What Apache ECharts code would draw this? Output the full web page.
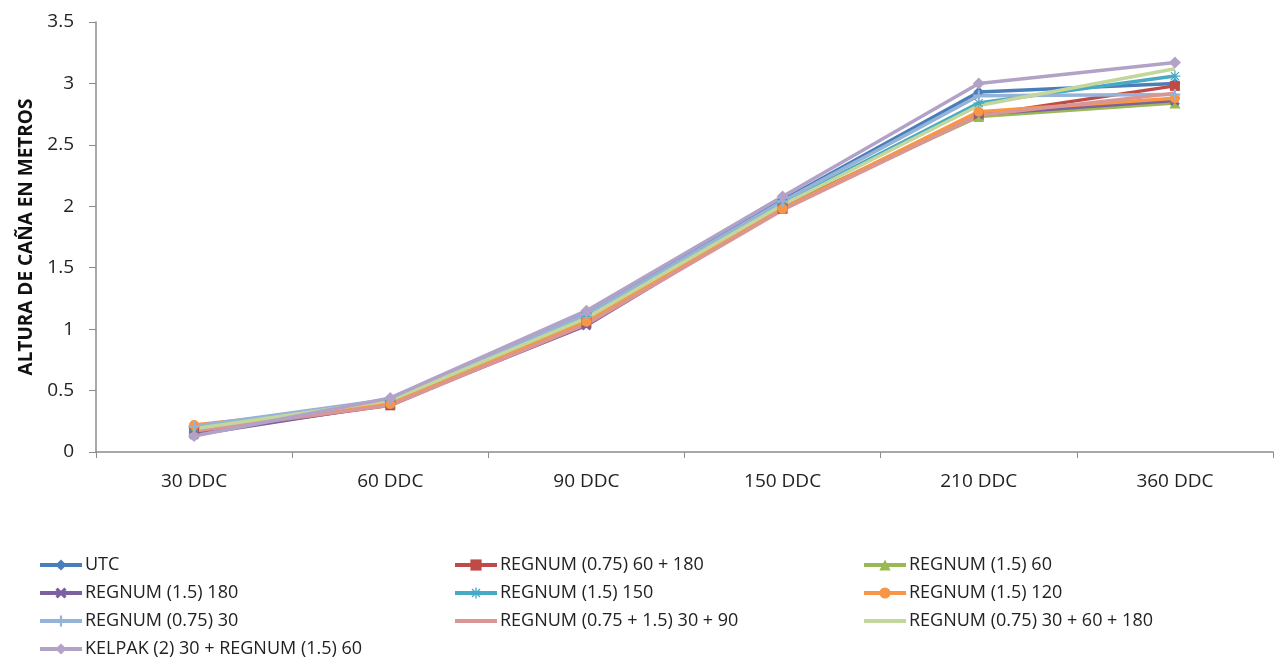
<!DOCTYPE html>
<html>
<head>
<meta charset="utf-8">
<script src="https://cdn.jsdelivr.net/npm/echarts@6/dist/echarts.min.js"></script>
<style>
  html, body { margin: 0; padding: 0; background: #fff; }
  #main { width: 1281px; height: 665px; }
</style>
</head>
<body>
<div id="main"></div>
<script>
// categorias del eje x
const categories = ['30 DDC', '60 DDC', '90 DDC', '150 DDC', '210 DDC', '360 DDC']

// valores (altura en metros)
const utc = [0.15, 0.41, 1.13, 2.05, 2.93, 3.00]
const regnum075_60_180 = [0.16, 0.38, 1.05, 1.98, 2.74, 2.98]
const regnum15_60 = [0.18, 0.40, 1.08, 2.00, 2.73, 2.84]
const regnum15_180 = [0.14, 0.39, 1.03, 1.99, 2.75, 2.86]
const regnum15_150 = [0.20, 0.42, 1.10, 2.02, 2.84, 3.06]
const regnum15_120 = [0.22, 0.39, 1.06, 1.98, 2.77, 2.88]
const regnum075_30 = [0.21, 0.43, 1.12, 2.04, 2.90, 2.91]
const regnum075_15_30_90 = [0.17, 0.38, 1.04, 1.97, 2.74, 2.92]
const regnum075_30_60_180 = [0.19, 0.42, 1.09, 2.01, 2.82, 3.12]
const kelpak = [0.13, 0.44, 1.15, 2.08, 3.00, 3.17]

// simbolos que echarts no trae
const xMark = 'path://M0,2L2,0L5,3L8,0L10,2L7,5L10,8L8,10L5,7L2,10L0,8L3,5Z'
const plusMark = 'path://M4,0H6V4H10V6H6V10H4V6H0V4H4Z'
const starMark = 'path://M4.4,0H5.6V4.4H10V5.6H5.6V10H4.4V5.6H0V4.4H4.4Z M1,1.8L1.8,1L5,4.2L8.2,1L9,1.8L5.8,5L9,8.2L8.2,9L5,5.8L1.8,9L1,8.2L4.2,5Z'

const seriesDefs = [
    { name: 'UTC', data: utc, color: '#4A7EBB', symbol: 'diamond', size: 11 },
    { name: 'REGNUM (0.75) 60 + 180', data: regnum075_60_180, color: '#BE4B48', symbol: 'rect', size: 10 },
    { name: 'REGNUM (1.5) 60', data: regnum15_60, color: '#98B954', symbol: 'triangle', size: 11 },
    { name: 'REGNUM (1.5) 180', data: regnum15_180, color: '#7D60A0', symbol: xMark, size: 10 },
    { name: 'REGNUM (1.5) 150', data: regnum15_150, color: '#46AAC5', symbol: starMark, size: 11 },
    { name: 'REGNUM (1.5) 120', data: regnum15_120, color: '#F79646', symbol: 'circle', size: 10 },
    { name: 'REGNUM (0.75) 30', data: regnum075_30, color: '#95B3D7', symbol: plusMark, size: 11 },
    { name: 'REGNUM (0.75 + 1.5) 30 + 90', data: regnum075_15_30_90, color: '#D99694', symbol: 'none', size: 0 },
    { name: 'REGNUM (0.75) 30 + 60 + 180', data: regnum075_30_60_180, color: '#C3D69B', symbol: 'none', size: 0 },
    { name: 'KELPAK (2) 30 + REGNUM (1.5) 60', data: kelpak, color: '#B3A2C7', symbol: 'diamond', size: 12 }
]

const font = '"Open Sans", sans-serif'

const chart = echarts.init(document.getElementById('main'))

// las series sin marcador no deben mostrar simbolo en la leyenda
function legendItem(name) {
    const def = seriesDefs.find(s => s.name === name)
    if (def.symbol === 'none') {
        return { name: name, itemStyle: { opacity: 0 } }
    }
    return name
}

function legendCol(names, left) {
    return {
        data: names.map(legendItem),
        orient: 'vertical',
        left: left,
        top: 555,
        height: 110,
        padding: 0,
        itemGap: 8,
        itemWidth: 42,
        itemHeight: 14,
        lineStyle: { width: 4 },
        textStyle: { fontFamily: font, fontSize: 18, lineHeight: 20, color: '#222', padding: [0, 0, 0, -2] }
    }
}

chart.setOption({
    animation: false,
    grid: { left: 96, right: 8, top: 22, bottom: 213 },
    legend: [
        legendCol(['UTC', 'REGNUM (1.5) 180', 'REGNUM (0.75) 30', 'KELPAK (2) 30 + REGNUM (1.5) 60'], 38),
        legendCol(['REGNUM (0.75) 60 + 180', 'REGNUM (1.5) 150', 'REGNUM (0.75 + 1.5) 30 + 90'], 453),
        legendCol(['REGNUM (1.5) 60', 'REGNUM (1.5) 120', 'REGNUM (0.75) 30 + 60 + 180'], 862)
    ],
    xAxis: {
        type: 'category',
        data: categories,
        boundaryGap: true,
        axisLine: { lineStyle: { color: '#8c8c8c', width: 1.5 } },
        axisTick: { show: true, length: 6, lineStyle: { color: '#8c8c8c' } },
        axisLabel: { fontFamily: font, fontSize: 19, color: '#222', margin: 20 }
    },
    yAxis: {
        type: 'value',
        min: 0,
        max: 3.5,
        interval: 0.5,
        name: 'ALTURA DE CAÑA EN METROS',
        nameLocation: 'middle',
        nameGap: 60,
        nameTextStyle: { fontFamily: font, fontSize: 19, fontWeight: 'bold', color: '#111' },
        axisLine: { show: true, lineStyle: { color: '#8c8c8c', width: 1.5 } },
        axisTick: { show: true, length: 7, lineStyle: { color: '#8c8c8c' } },
        splitLine: { show: false },
        axisLabel: { fontFamily: font, fontSize: 19, color: '#222', margin: 22 }
    },
    series: seriesDefs.map(s => ({
        name: s.name,
        type: 'line',
        data: s.data,
        symbol: s.symbol,
        symbolSize: s.size,
        showSymbol: s.symbol !== 'none',
        lineStyle: { color: s.color, width: 3.5 },
        itemStyle: { color: s.color }
    }))
})
</script>
</body>
</html>
